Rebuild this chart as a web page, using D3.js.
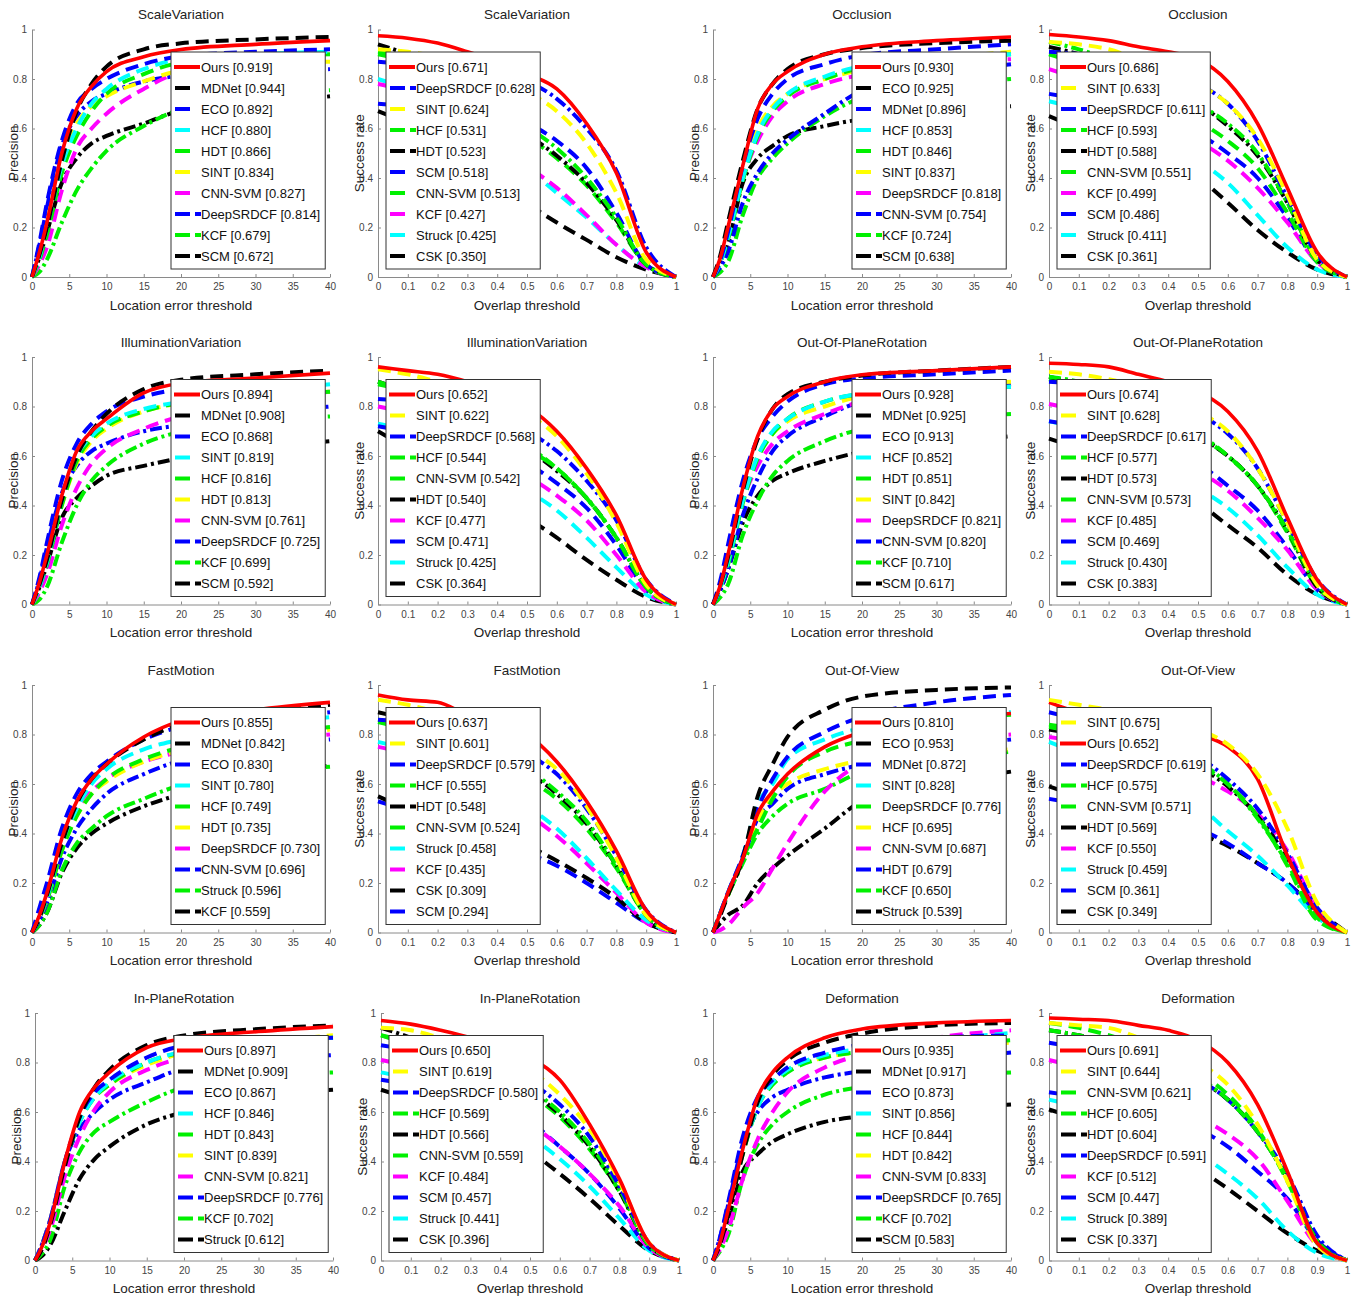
<!DOCTYPE html>
<html>
<head>
<meta charset="utf-8">
<script src="https://cdn.jsdelivr.net/npm/d3@7"></script>
<style>
  body { margin: 0; background: #fff; }
  svg text { font-family: "Liberation Sans", Arial, sans-serif; }
</style>
</head>
<body>
<div id="chart"></div>
<script>
const precX = [0, 1, 2, 4, 6, 8, 10, 15, 20, 30, 40];
const succX = [0, 0.1, 0.2, 0.3, 0.4, 0.5, 0.6, 0.7, 0.8, 0.9, 1];
const precTicks = [0, 5, 10, 15, 20, 25, 30, 35, 40];
const succTicks = [0, 0.1, 0.2, 0.3, 0.4, 0.5, 0.6, 0.7, 0.8, 0.9, 1];
const yTicks = [0, 0.2, 0.4, 0.6, 0.8, 1];
const attributes = ["ScaleVariation", "Occlusion", "IlluminationVariation", "Out-Of-PlaneRotation",
  "FastMotion", "Out-Of-View", "In-PlaneRotation", "Deformation"];

// [tracker, score, values]
const svPrec = [
  ["Ours", 0.919, [0, .1, .22, .5, .68, .77, .83, .89, .919, .94, .955]],
  ["MDNet", 0.944, [0, .09, .2, .47, .67, .78, .85, .92, .944, .96, .97]],
  ["ECO", 0.892, [0, .14, .3, .55, .7, .76, .8, .86, .892, .91, .92]],
  ["HCF", 0.880, [0, .08, .2, .45, .6, .7, .76, .84, .88, .9, .91]],
  ["HDT", 0.866, [0, .07, .17, .42, .57, .67, .74, .82, .866, .89, .9]],
  ["SINT", 0.834, [0, .1, .22, .48, .62, .69, .73, .79, .834, .86, .87]],
  ["CNN-SVM", 0.827, [0, .05, .12, .35, .52, .6, .66, .76, .827, .86, .88]],
  ["DeepSRDCF", 0.814, [0, .13, .28, .53, .65, .71, .74, .79, .814, .83, .84]],
  ["KCF", 0.679, [0, .02, .07, .22, .35, .44, .51, .61, .679, .73, .755]],
  ["SCM", 0.672, [0, .08, .18, .38, .48, .54, .57, .62, .672, .7, .73]]
];
const svSucc = [
  ["Ours", 0.671, [.975, .965, .945, .91, .87, .82, .76, .62, .42, .1, 0]],
  ["DeepSRDCF", 0.628, [.87, .86, .85, .84, .82, .79, .72, .6, .43, .12, 0]],
  ["SINT", 0.624, [.92, .91, .89, .86, .82, .75, .67, .54, .34, .07, 0]],
  ["HCF", 0.531, [.91, .89, .85, .79, .71, .61, .52, .4, .24, .05, 0]],
  ["HDT", 0.523, [.94, .9, .85, .78, .69, .58, .49, .38, .23, .05, 0]],
  ["SCM", 0.518, [.7, .69, .68, .67, .65, .62, .55, .44, .26, .05, 0]],
  ["CNN-SVM", 0.513, [.9, .87, .82, .75, .67, .57, .48, .37, .22, .05, 0]],
  ["KCF", 0.427, [.78, .75, .7, .63, .55, .45, .36, .25, .13, .04, 0]],
  ["Struck", 0.425, [.8, .76, .7, .62, .54, .44, .34, .24, .13, .04, 0]],
  ["CSK", 0.350, [.67, .62, .56, .49, .41, .3, .22, .15, .08, .03, 0]]
];
const occPrec = [
  ["Ours", 0.930, [0, .08, .2, .45, .68, .78, .83, .9, .93, .955, .97]],
  ["ECO", 0.925, [0, .09, .22, .47, .68, .78, .84, .9, .925, .945, .955]],
  ["MDNet", 0.896, [0, .07, .18, .45, .64, .74, .8, .86, .896, .92, .94]],
  ["HCF", 0.853, [0, .06, .16, .4, .58, .68, .74, .81, .853, .885, .9]],
  ["HDT", 0.846, [0, .06, .15, .39, .57, .67, .73, .8, .846, .88, .9]],
  ["SINT", 0.837, [0, .07, .18, .42, .6, .69, .74, .8, .837, .88, .91]],
  ["DeepSRDCF", 0.818, [0, .07, .17, .4, .55, .65, .71, .78, .818, .86, .88]],
  ["CNN-SVM", 0.754, [0, .04, .1, .3, .42, .5, .555, .66, .754, .82, .86]],
  ["KCF", 0.724, [0, .02, .06, .25, .4, .48, .54, .65, .724, .77, .8]],
  ["SCM", 0.638, [0, .05, .13, .38, .48, .53, .57, .61, .638, .67, .69]]
];
const occSucc = [
  ["Ours", 0.686, [.98, .97, .955, .93, .91, .88, .79, .62, .36, .1, 0]],
  ["SINT", 0.633, [.95, .94, .92, .88, .84, .78, .7, .56, .33, .07, 0]],
  ["DeepSRDCF", 0.611, [.91, .9, .88, .86, .83, .78, .7, .55, .32, .09, 0]],
  ["HCF", 0.593, [.95, .92, .88, .83, .77, .7, .62, .5, .3, .07, 0]],
  ["HDT", 0.588, [.93, .9, .86, .82, .76, .7, .61, .49, .3, .07, 0]],
  ["CNN-SVM", 0.551, [.9, .86, .81, .75, .69, .63, .55, .44, .26, .06, 0]],
  ["KCF", 0.499, [.84, .8, .75, .68, .61, .55, .47, .36, .22, .06, 0]],
  ["SCM", 0.486, [.74, .72, .7, .67, .63, .58, .5, .4, .24, .06, 0]],
  ["Struck", 0.411, [.71, .68, .64, .59, .53, .47, .38, .25, .12, .03, 0]],
  ["CSK", 0.361, [.65, .6, .55, .5, .45, .4, .3, .19, .1, .03, 0]]
];
const ivPrec = [
  ["Ours", 0.894, [0, .09, .2, .44, .62, .7, .75, .855, .894, .915, .935]],
  ["MDNet", 0.908, [0, .08, .18, .42, .6, .7, .77, .87, .908, .93, .945]],
  ["ECO", 0.868, [0, .11, .25, .5, .65, .73, .78, .84, .868, .88, .895]],
  ["SINT", 0.819, [0, .07, .17, .42, .6, .68, .73, .79, .819, .86, .89]],
  ["HCF", 0.816, [0, .07, .16, .4, .58, .67, .72, .78, .816, .84, .86]],
  ["HDT", 0.813, [0, .08, .18, .4, .57, .66, .71, .78, .813, .84, .86]],
  ["CNN-SVM", 0.761, [0, .05, .12, .32, .47, .57, .63, .71, .761, .82, .86]],
  ["DeepSRDCF", 0.725, [0, .1, .23, .45, .56, .62, .65, .7, .725, .77, .8]],
  ["KCF", 0.699, [0, .02, .07, .25, .4, .5, .56, .65, .699, .74, .76]],
  ["SCM", 0.592, [0, .07, .16, .35, .43, .48, .52, .56, .592, .63, .66]]
];
const ivSucc = [
  ["Ours", 0.652, [.96, .945, .93, .9, .86, .8, .7, .55, .36, .1, 0]],
  ["SINT", 0.622, [.95, .93, .9, .87, .82, .77, .68, .53, .33, .08, 0]],
  ["DeepSRDCF", 0.568, [.83, .82, .8, .78, .75, .7, .62, .5, .34, .1, 0]],
  ["HCF", 0.544, [.89, .86, .82, .76, .7, .64, .55, .43, .27, .07, 0]],
  ["CNN-SVM", 0.542, [.9, .86, .82, .76, .7, .63, .55, .43, .27, .07, 0]],
  ["HDT", 0.540, [.9, .86, .81, .76, .7, .63, .54, .43, .27, .07, 0]],
  ["KCF", 0.477, [.8, .77, .72, .66, .59, .52, .44, .34, .2, .05, 0]],
  ["SCM", 0.471, [.72, .7, .68, .65, .61, .57, .49, .39, .24, .06, 0]],
  ["Struck", 0.425, [.73, .7, .65, .59, .52, .46, .38, .27, .15, .04, 0]],
  ["CSK", 0.364, [.7, .63, .56, .49, .42, .35, .27, .18, .1, .03, 0]]
];
const oprPrec = [
  ["Ours", 0.928, [0, .08, .2, .47, .68, .79, .84, .9, .928, .945, .96]],
  ["MDNet", 0.925, [0, .08, .19, .46, .67, .79, .85, .9, .925, .945, .96]],
  ["ECO", 0.913, [0, .1, .24, .5, .67, .76, .82, .89, .913, .93, .945]],
  ["HCF", 0.852, [0, .07, .17, .42, .6, .7, .75, .82, .852, .87, .88]],
  ["HDT", 0.851, [0, .07, .16, .41, .59, .69, .75, .82, .851, .87, .88]],
  ["SINT", 0.842, [0, .08, .18, .44, .6, .69, .74, .8, .842, .88, .9]],
  ["DeepSRDCF", 0.821, [0, .08, .18, .42, .56, .65, .7, .77, .821, .86, .88]],
  ["CNN-SVM", 0.820, [0, .06, .14, .36, .51, .62, .68, .76, .82, .86, .89]],
  ["KCF", 0.710, [0, .03, .08, .28, .42, .52, .58, .66, .71, .75, .77]],
  ["SCM", 0.617, [0, .06, .14, .33, .44, .5, .53, .58, .617, .65, .68]]
];
const oprSucc = [
  ["Ours", 0.674, [.975, .97, .96, .93, .9, .86, .78, .62, .35, .1, 0]],
  ["SINT", 0.628, [.94, .93, .91, .88, .84, .78, .7, .55, .33, .08, 0]],
  ["DeepSRDCF", 0.617, [.9, .89, .87, .84, .81, .77, .69, .55, .33, .1, 0]],
  ["HCF", 0.577, [.92, .9, .86, .81, .75, .69, .6, .48, .3, .08, 0]],
  ["HDT", 0.573, [.92, .89, .85, .8, .74, .68, .6, .48, .3, .07, 0]],
  ["CNN-SVM", 0.573, [.91, .88, .84, .8, .74, .68, .6, .48, .29, .07, 0]],
  ["KCF", 0.485, [.81, .78, .73, .67, .6, .54, .46, .35, .22, .06, 0]],
  ["SCM", 0.469, [.74, .72, .69, .66, .62, .57, .48, .38, .23, .06, 0]],
  ["Struck", 0.430, [.74, .71, .66, .6, .53, .47, .39, .28, .15, .04, 0]],
  ["CSK", 0.383, [.67, .63, .58, .53, .47, .41, .32, .23, .12, .04, 0]]
];
const fmPrec = [
  ["Ours", 0.855, [0, .07, .16, .38, .53, .62, .68, .79, .855, .9, .93]],
  ["MDNet", 0.842, [0, .06, .15, .36, .52, .62, .68, .78, .842, .89, .92]],
  ["ECO", 0.830, [0, .1, .2, .42, .56, .64, .69, .78, .83, .86, .89]],
  ["SINT", 0.780, [0, .06, .14, .36, .5, .6, .66, .74, .78, .84, .87]],
  ["HCF", 0.749, [0, .06, .13, .33, .47, .56, .62, .7, .749, .8, .83]],
  ["HDT", 0.735, [0, .06, .13, .33, .47, .56, .61, .69, .735, .78, .82]],
  ["DeepSRDCF", 0.730, [0, .06, .14, .35, .49, .57, .62, .69, .73, .77, .8]],
  ["CNN-SVM", 0.696, [0, .05, .12, .3, .42, .5, .56, .64, .696, .75, .78]],
  ["Struck", 0.596, [0, .03, .08, .25, .36, .42, .47, .54, .596, .64, .67]],
  ["KCF", 0.559, [0, .03, .08, .24, .34, .4, .44, .51, .559, .63, .675]]
];
const fmSucc = [
  ["Ours", 0.637, [.96, .94, .93, .88, .85, .8, .69, .53, .33, .09, 0]],
  ["SINT", 0.601, [.94, .92, .89, .85, .8, .74, .66, .51, .3, .07, 0]],
  ["DeepSRDCF", 0.579, [.86, .85, .83, .8, .76, .72, .64, .5, .31, .09, 0]],
  ["HCF", 0.555, [.86, .84, .81, .77, .72, .66, .57, .45, .27, .07, 0]],
  ["HDT", 0.548, [.89, .86, .82, .77, .71, .65, .56, .44, .27, .07, 0]],
  ["CNN-SVM", 0.524, [.85, .82, .78, .73, .68, .62, .54, .42, .26, .07, 0]],
  ["Struck", 0.458, [.77, .74, .7, .64, .58, .51, .42, .3, .17, .05, 0]],
  ["KCF", 0.435, [.75, .72, .67, .61, .55, .48, .39, .28, .16, .04, 0]],
  ["CSK", 0.309, [.55, .5, .46, .42, .38, .35, .29, .22, .14, .04, 0]],
  ["SCM", 0.294, [.53, .49, .44, .4, .36, .32, .27, .2, .12, .04, 0]]
];
const ovPrec = [
  ["Ours", 0.810, [0, .08, .16, .3, .48, .57, .64, .75, .81, .86, .885]],
  ["ECO", 0.953, [0, .07, .15, .3, .55, .68, .79, .9, .953, .98, .99]],
  ["MDNet", 0.872, [0, .08, .16, .31, .5, .62, .71, .81, .872, .93, .96]],
  ["SINT", 0.828, [0, .08, .16, .31, .52, .6, .7, .78, .828, .87, .89]],
  ["DeepSRDCF", 0.776, [0, .08, .15, .3, .42, .54, .63, .73, .776, .85, .88]],
  ["HCF", 0.695, [0, .08, .15, .3, .45, .55, .6, .66, .695, .72, .74]],
  ["CNN-SVM", 0.687, [0, .01, .03, .1, .16, .26, .36, .57, .687, .77, .8]],
  ["HDT", 0.679, [0, .08, .16, .3, .46, .52, .58, .64, .679, .74, .78]],
  ["KCF", 0.650, [0, .08, .15, .28, .4, .47, .52, .58, .65, .7, .73]],
  ["Struck", 0.539, [0, .04, .07, .11, .2, .26, .31, .42, .53, .6, .65]]
];
const ovSucc = [
  ["SINT", 0.675, [.94, .92, .9, .88, .85, .82, .76, .64, .42, .12, 0]],
  ["Ours", 0.652, [.93, .89, .87, .85, .83, .8, .75, .62, .31, .08, 0]],
  ["DeepSRDCF", 0.619, [.89, .86, .83, .8, .76, .71, .62, .5, .32, .1, 0]],
  ["HCF", 0.575, [.84, .82, .8, .77, .73, .69, .6, .46, .28, .06, 0]],
  ["CNN-SVM", 0.571, [.83, .81, .79, .76, .72, .68, .6, .47, .27, .05, 0]],
  ["HDT", 0.569, [.82, .8, .78, .75, .71, .67, .59, .47, .3, .08, 0]],
  ["KCF", 0.550, [.79, .77, .74, .7, .66, .63, .57, .48, .33, .1, 0]],
  ["Struck", 0.459, [.77, .72, .66, .6, .55, .51, .41, .31, .19, .06, 0]],
  ["SCM", 0.361, [.54, .52, .5, .47, .45, .42, .36, .28, .2, .08, 0]],
  ["CSK", 0.349, [.59, .55, .51, .47, .44, .4, .35, .28, .2, .09, 0]]
];
const iprPrec = [
  ["Ours", 0.897, [0, .06, .15, .4, .6, .7, .76, .86, .897, .925, .945]],
  ["MDNet", 0.909, [0, .05, .14, .38, .58, .7, .77, .87, .909, .935, .95]],
  ["ECO", 0.867, [0, .07, .16, .4, .58, .68, .73, .82, .867, .89, .9]],
  ["HCF", 0.846, [0, .06, .15, .39, .56, .66, .72, .8, .846, .88, .9]],
  ["HDT", 0.843, [0, .06, .15, .39, .56, .66, .71, .8, .843, .88, .9]],
  ["SINT", 0.839, [0, .07, .16, .4, .57, .66, .71, .79, .839, .88, .91]],
  ["CNN-SVM", 0.821, [0, .05, .12, .34, .5, .61, .68, .77, .821, .86, .875]],
  ["DeepSRDCF", 0.776, [0, .07, .16, .4, .53, .6, .65, .72, .776, .81, .83]],
  ["KCF", 0.702, [0, .03, .08, .3, .44, .52, .56, .64, .7, .74, .76]],
  ["Struck", 0.612, [0, .02, .06, .2, .33, .41, .46, .55, .6, .66, .69]]
];
const iprSucc = [
  ["Ours", 0.650, [.97, .955, .93, .9, .86, .82, .73, .55, .33, .07, 0]],
  ["SINT", 0.619, [.94, .93, .9, .87, .83, .77, .67, .53, .32, .07, 0]],
  ["DeepSRDCF", 0.580, [.87, .85, .83, .8, .77, .72, .63, .5, .3, .07, 0]],
  ["HCF", 0.569, [.91, .88, .84, .79, .74, .69, .6, .47, .29, .06, 0]],
  ["HDT", 0.566, [.94, .9, .85, .79, .73, .68, .59, .46, .28, .06, 0]],
  ["CNN-SVM", 0.559, [.91, .87, .83, .78, .73, .67, .58, .45, .28, .06, 0]],
  ["KCF", 0.484, [.81, .78, .73, .67, .6, .55, .46, .35, .22, .05, 0]],
  ["SCM", 0.457, [.73, .71, .68, .65, .61, .56, .46, .35, .21, .05, 0]],
  ["Struck", 0.441, [.76, .73, .68, .62, .56, .5, .41, .3, .17, .04, 0]],
  ["CSK", 0.396, [.69, .65, .6, .55, .5, .44, .35, .25, .14, .04, 0]]
];
const defPrec = [
  ["Ours", 0.935, [0, .08, .2, .45, .66, .76, .82, .9, .935, .96, .97]],
  ["MDNet", 0.917, [0, .07, .18, .43, .64, .75, .81, .88, .917, .95, .96]],
  ["ECO", 0.873, [0, .1, .23, .5, .66, .73, .78, .84, .873, .9, .91]],
  ["SINT", 0.856, [0, .08, .19, .44, .62, .72, .77, .83, .856, .89, .92]],
  ["HCF", 0.844, [0, .08, .19, .43, .62, .71, .76, .82, .844, .87, .89]],
  ["HDT", 0.842, [0, .08, .19, .44, .63, .72, .77, .82, .842, .86, .88]],
  ["CNN-SVM", 0.833, [0, .05, .12, .33, .49, .6, .68, .78, .833, .9, .93]],
  ["DeepSRDCF", 0.765, [0, .1, .22, .47, .6, .66, .69, .74, .765, .81, .84]],
  ["KCF", 0.702, [0, .04, .1, .33, .47, .55, .6, .67, .702, .74, .76]],
  ["SCM", 0.583, [0, .07, .16, .36, .43, .48, .51, .56, .583, .61, .63]]
];
const defSucc = [
  ["Ours", 0.691, [.98, .975, .97, .95, .93, .89, .8, .63, .36, .07, 0]],
  ["SINT", 0.644, [.96, .95, .94, .9, .85, .8, .71, .55, .32, .06, 0]],
  ["CNN-SVM", 0.621, [.96, .94, .91, .87, .82, .76, .67, .53, .32, .07, 0]],
  ["HCF", 0.605, [.93, .91, .88, .84, .79, .74, .65, .52, .33, .08, 0]],
  ["HDT", 0.604, [.93, .91, .88, .84, .78, .73, .65, .52, .33, .08, 0]],
  ["DeepSRDCF", 0.591, [.88, .86, .84, .81, .77, .73, .65, .52, .35, .1, 0]],
  ["KCF", 0.512, [.81, .78, .74, .69, .63, .58, .51, .41, .24, .06, 0]],
  ["SCM", 0.447, [.68, .66, .63, .6, .56, .53, .46, .36, .25, .08, 0]],
  ["Struck", 0.389, [.65, .62, .58, .53, .48, .43, .35, .25, .12, .03, 0]],
  ["CSK", 0.337, [.61, .57, .52, .48, .43, .37, .29, .2, .11, .04, 0]]
];

// grid order: per row, precision + success for two attributes
const panelData = [
  svPrec, svSucc, occPrec, occSucc,
  ivPrec, ivSucc, oprPrec, oprSucc,
  fmPrec, fmSucc, ovPrec, ovSucc,
  iprPrec, iprSucc, defPrec, defSucc
];

// Layout
const colX = [32, 378, 713, 1049];
const rowY = [29.5, 357, 685, 1013];
const plotW = 298, plotH = 247.5;

// Styles: precision plots colour by rank, success plots by tracker
const dashes = { solid: null, dash: "13,7", dashdot: "12,4,3,4" };
const rankStyle = [
  ["#ff0000", "solid"], ["#000000", "dash"], ["#0000ff", "dash"], ["#00ffff", "dash"],
  ["#00f000", "dash"], ["#ffff00", "dash"], ["#ff00ff", "dash"], ["#0000ff", "dashdot"],
  ["#00f000", "dashdot"], ["#000000", "dashdot"]
];
const trackerStyle = {
  "Ours": ["#ff0000", "solid"], "SINT": ["#ffff00", "dash"], "DeepSRDCF": ["#0000ff", "dashdot"],
  "HCF": ["#00f000", "dashdot"], "HDT": ["#000000", "dashdot"], "CNN-SVM": ["#00f000", "dash"],
  "KCF": ["#ff00ff", "dash"], "SCM": ["#0000ff", "dash"], "Struck": ["#00ffff", "dash"],
  "CSK": ["#000000", "dash"]
};

const svg = d3.select("#chart")
  .append("svg")
  .attr("width", 1369)
  .attr("height", 1301);

const tickFmt = d => (d === 0 || d === 1) ? String(d) : String(+d.toFixed(1));

panelData.forEach((rows, i) => {
  const r = Math.floor(i / 4), c = i % 4;
  const isPrec = c % 2 === 0;
  const title = attributes[r * 2 + (c >= 2 ? 1 : 0)];
  const x0 = colX[c] + (r === 3 && c < 2 ? 3 : 0);
  const y0 = rowY[r];
  const xs = isPrec ? precX : succX;

  const g = svg.append("g").attr("transform", `translate(${x0},${y0})`);

  const x = d3.scaleLinear().domain(isPrec ? [0, 40] : [0, 1]).range([0, plotW]);
  const y = d3.scaleLinear().domain([0, 1]).range([plotH, 0]);

  // Axes (MATLAB style: left + bottom, ticks inside)
  const xAxis = g.append("g")
    .attr("transform", `translate(0,${plotH})`)
    .call(d3.axisBottom(x).tickValues(isPrec ? precTicks : succTicks)
      .tickFormat(isPrec ? d3.format("d") : tickFmt)
      .tickSizeInner(-3).tickSizeOuter(0).tickPadding(6));
  const yAxis = g.append("g")
    .call(d3.axisLeft(y).tickValues(yTicks).tickFormat(tickFmt)
      .tickSizeInner(-3).tickSizeOuter(0).tickPadding(5));
  [xAxis, yAxis].forEach(a => {
    a.select(".domain").attr("stroke", "#8a8a8a");
    a.selectAll(".tick line").attr("stroke", "#8a8a8a");
    a.selectAll(".tick text").attr("fill", "#444").style("font-size", "10px");
  });

  // Curves
  g.append("clipPath").attr("id", `clip${i}`)
    .append("rect").attr("x", -2).attr("y", -4).attr("width", plotW + 4).attr("height", plotH + 6);

  const line = d3.line()
    .x((d, k) => x(xs[k]))
    .y(d => y(d))
    .curve(d3.curveMonotoneX);

  const styleOf = (row, k) => isPrec ? rankStyle[k] : trackerStyle[row[0]];

  const curves = g.append("g").attr("clip-path", `url(#clip${i})`);
  rows.slice().reverse().forEach((row, j) => {
    const k = rows.length - 1 - j;
    const [col, dash] = styleOf(row, k);
    curves.append("path")
      .attr("d", line(row[2]))
      .attr("fill", "none")
      .attr("stroke", col)
      .attr("stroke-width", dash === "solid" ? 3.6 : 4)
      .attr("stroke-dasharray", dashes[dash]);
  });

  // Title and axis labels
  g.append("text")
    .attr("x", plotW / 2).attr("y", -14)
    .attr("text-anchor", "middle").attr("dominant-baseline", "middle")
    .style("font-size", "13.5px").attr("fill", "#222")
    .text(title);
  g.append("text")
    .attr("x", plotW / 2).attr("y", plotH + 29)
    .attr("text-anchor", "middle").attr("dominant-baseline", "middle")
    .style("font-size", "13.5px").attr("fill", "#222")
    .text(isPrec ? "Location error threshold" : "Overlap threshold");
  g.append("text")
    .attr("transform", `translate(-18,${plotH / 2}) rotate(-90)`)
    .attr("text-anchor", "middle").attr("dominant-baseline", "middle")
    .style("font-size", "13.5px").attr("fill", "#222")
    .text(isPrec ? "Precision" : "Success rate");

  // Legend
  const legend = g.append("g")
    .attr("transform", `translate(${isPrec ? 139 : 8},${22.5})`);
  const box = legend.append("rect")
    .attr("fill", "#fff").attr("stroke", "#333").attr("stroke-width", 1)
    .attr("height", 217);

  const items = legend.selectAll(".item")
    .data(rows)
    .enter()
    .append("g")
    .attr("class", "item")
    .attr("transform", (d, k) => `translate(0,${15 + k * 21})`);

  items.each(function (d, k) {
    const [col, dash] = styleOf(d, k);
    const it = d3.select(this);
    if (dash === "solid") {
      it.append("line").attr("x1", 3).attr("x2", 29);
    } else if (dash === "dash") {
      it.append("line").attr("x1", 4).attr("x2", 19);
    } else {
      it.append("line").attr("x1", 4).attr("x2", 30).attr("stroke-dasharray", "15,5,7");
    }
    it.select("line").attr("stroke", col).attr("stroke-width", 4);
  });

  const labels = items.append("text")
    .attr("x", 30)
    .attr("dy", "0.35em")
    .style("font-size", "13px")
    .attr("fill", "#111")
    .text(d => `${d[0]} [${d[1].toFixed(3)}]`);

  const maxW = d3.max(labels.nodes(), n => n.getComputedTextLength());
  box.attr("width", 30 + maxW + 5);
});
</script>
</body>
</html>
